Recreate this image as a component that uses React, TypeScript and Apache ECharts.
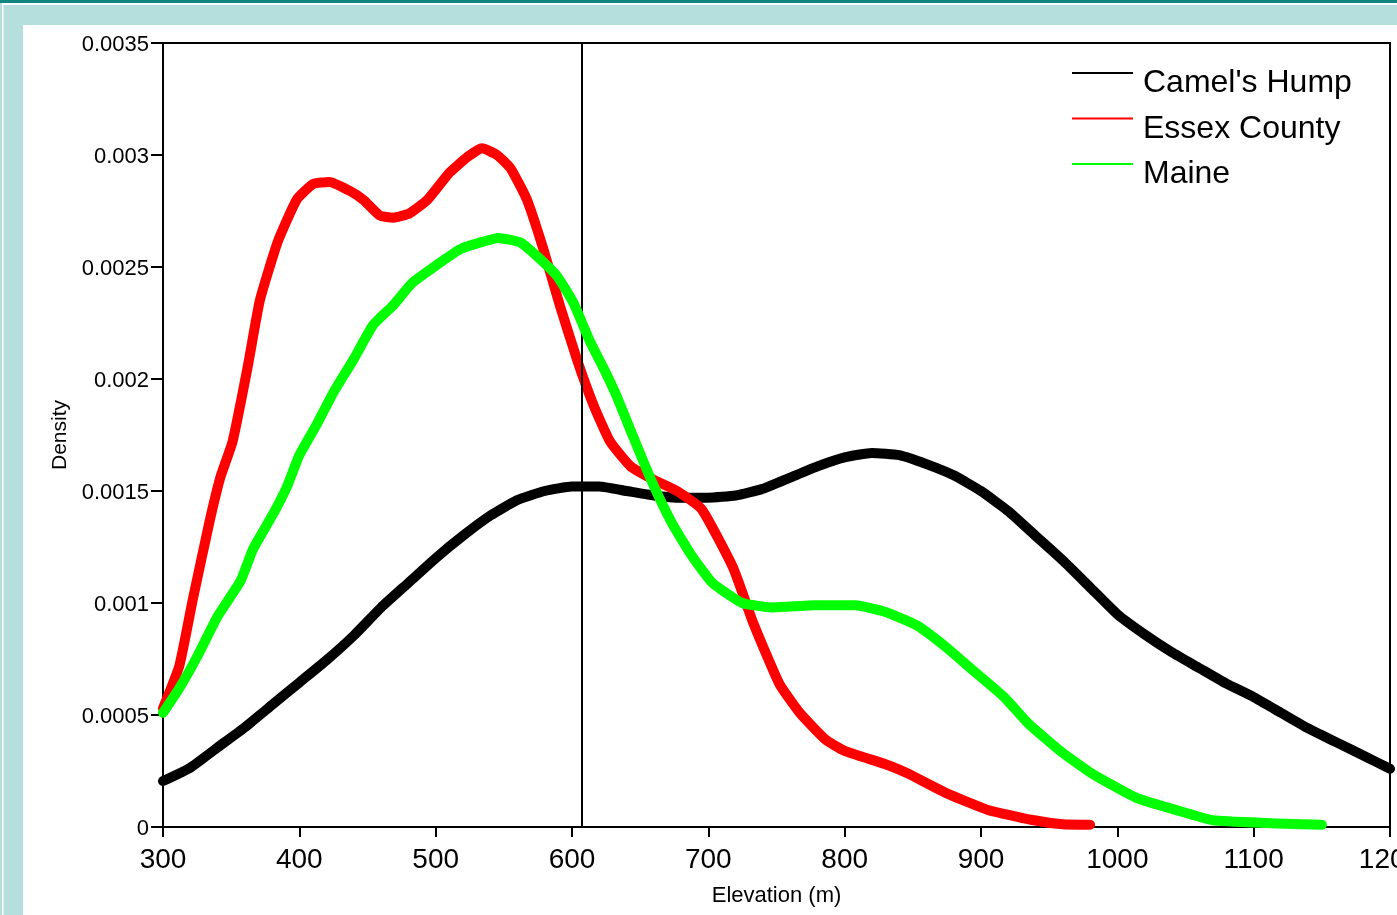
import React, { useEffect, useRef } from "react";
import * as echarts from "echarts";

const seriesNames = ["Camel's Hump", "Essex County", "Maine"];
const seriesColors = ["#000000", "#ff0000", "#00ff00"];

const camelsX = [300, 320, 340, 360, 380, 400, 420, 440, 460, 480, 500, 520, 540, 560, 580, 600, 620, 640, 660, 680, 700, 720, 740, 760, 780, 800, 820, 840, 860, 880, 900, 920, 940, 960, 980, 1000, 1020, 1040, 1060, 1080, 1100, 1120, 1140, 1160, 1180, 1200];
const camelsY = [0.000205, 0.000265, 0.000355, 0.000445, 0.000545, 0.000645, 0.000745, 0.000855, 0.00098, 0.00109, 0.0012, 0.0013, 0.00139, 0.00146, 0.0015, 0.00152, 0.00152, 0.0015, 0.00148, 0.00147, 0.00147, 0.00148, 0.00151, 0.00156, 0.00161, 0.00165, 0.00167, 0.00166, 0.00162, 0.00157, 0.0015, 0.00141, 0.0013, 0.00119, 0.00107, 0.00095, 0.00086, 0.00078, 0.00071, 0.00064, 0.00058, 0.00051, 0.00044, 0.00038, 0.00032, 0.00026];

const essexX = [300, 312, 322, 334, 342, 351, 362, 371, 384, 398, 410, 422, 437, 447, 459, 469, 481, 494, 510, 523, 534, 545, 555, 567, 579, 591, 604, 616, 628, 643, 660, 677, 695, 718, 733, 752, 767, 786, 800, 830, 846, 875, 905, 939, 960, 980];
const essexY = [0.00053, 0.00072, 0.00102, 0.00136, 0.00156, 0.00172, 0.00205, 0.00235, 0.00261, 0.0028, 0.00287, 0.00288, 0.00284, 0.0028, 0.00273, 0.00272, 0.00274, 0.0028, 0.00292, 0.00299, 0.00303, 0.003, 0.00294, 0.0028, 0.00258, 0.00233, 0.00208, 0.00188, 0.00172, 0.00161, 0.00155, 0.0015, 0.00142, 0.00116, 0.00091, 0.00064, 0.00051, 0.00039, 0.00034, 0.00028, 0.00024, 0.00015, 0.000076, 0.00003, 0.000012, 0.00001];

const maineX = [300, 312, 325, 340, 357, 366, 381, 391, 400, 413, 425, 440, 454, 469, 483, 501, 518, 533, 546, 562, 574, 589, 601, 613, 623, 633, 643, 658, 673, 688, 703, 725, 748, 778, 808, 830, 853, 875, 894, 917, 935, 958, 981, 1014, 1048, 1070, 1108, 1150];
const maineY = [0.00051, 0.00062, 0.00076, 0.00094, 0.0011, 0.00124, 0.0014, 0.00152, 0.00166, 0.0018, 0.00194, 0.00209, 0.00224, 0.00233, 0.00243, 0.00251, 0.00258, 0.00261, 0.00263, 0.00261, 0.00255, 0.00246, 0.00234, 0.00217, 0.00205, 0.00192, 0.00177, 0.00155, 0.00136, 0.00121, 0.00109, 0.001, 0.00098, 0.00099, 0.00099, 0.00096, 0.0009, 0.0008, 0.0007, 0.00058, 0.00046, 0.00034, 0.00024, 0.00013, 0.000067, 0.00003, 0.000018, 0.00001];

const markerElevation = 607;
const xMin = 300;
const xMax = 1200;
const xStep = 100;
const yMin = 0;
const yMax = 0.0035;
const yStep = 0.0005;

const FONT = "'Liberation Sans', Arial, sans-serif";

function pairs(xs: number[], ys: number[]) {
  return xs.map((x, i) => [x, ys[i]]);
}

export default function App() {
  const ref = useRef<HTMLDivElement>(null);
  useEffect(() => {
    if (!ref.current) return;
    const chart = echarts.init(ref.current, undefined, { renderer: "svg" });
    const W = 1397;
    const H = 915;
    const data = [pairs(camelsX, camelsY), pairs(essexX, essexY), pairs(maineX, maineY)];
    const legendItems: any[] = [];
    seriesNames.forEach((name, i) => {
      const ly = 73 + i * 45.5;
      legendItems.push({
        type: "line",
        z: 100,
        shape: { x1: 1072, y1: ly, x2: 1133, y2: ly },
        style: { stroke: seriesColors[i], lineWidth: 2 },
      });
      legendItems.push({
        type: "text",
        z: 100,
        x: 1143,
        y: ly + 8,
        style: {
          text: name,
          font: `32px ${FONT}`,
          fill: "#000",
          verticalAlign: "middle",
          align: "left",
        },
      });
    });
    chart.setOption({
      animation: false,
      graphic: [
        { type: "rect", z: -10, silent: true, shape: { x: 0, y: 0, width: W, height: H }, style: { fill: "#b5dfdc" } },
        { type: "rect", z: -9, silent: true, shape: { x: 0, y: 0, width: W, height: 3 }, style: { fill: "#118680" } },
        { type: "rect", z: -9, silent: true, shape: { x: 2, y: 3, width: W, height: 2 }, style: { fill: "#ffffff" } },
        { type: "rect", z: -9, silent: true, shape: { x: 2, y: 3, width: 1.5, height: H }, style: { fill: "#ffffff" } },
        { type: "rect", z: -9, silent: true, shape: { x: 23, y: 25, width: W, height: H }, style: { fill: "#ffffff" } },
        ...legendItems,
      ],
      grid: {
        left: 163,
        top: 43,
        right: W - 1390,
        bottom: H - 827,
        show: true,
        containLabel: false,
        outerBoundsMode: "none",
        borderColor: "#000",
        borderWidth: 2,
        backgroundColor: "transparent",
      },
      xAxis: {
        type: "value",
        min: xMin,
        max: xMax,
        interval: xStep,
        name: "Elevation (m)",
        nameLocation: "middle",
        nameGap: 56,
        nameTextStyle: { fontSize: 22, color: "#000", fontFamily: FONT },
        axisLine: { show: true, lineStyle: { color: "#000", width: 2 } },
        axisTick: { show: true, length: 10, lineStyle: { color: "#000", width: 2 } },
        axisLabel: {
          fontSize: 28,
          color: "#000",
          fontFamily: FONT,
          margin: 17,
          hideOverlap: false,
          formatter: (v: number) => String(v),
        },
        splitLine: { show: false },
      },
      yAxis: {
        type: "value",
        min: yMin,
        max: yMax,
        interval: yStep,
        name: "Density",
        nameLocation: "middle",
        nameGap: 94,
        nameTextStyle: { fontSize: 21, color: "#000", fontFamily: FONT },
        axisLine: { show: true, lineStyle: { color: "#000", width: 2 } },
        axisTick: { show: true, length: 12, lineStyle: { color: "#000", width: 2 } },
        axisLabel: {
          fontSize: 22,
          color: "#000",
          fontFamily: FONT,
          margin: 14,
          formatter: (v: number) => String(+v.toFixed(4)),
        },
        splitLine: { show: false },
      },
      series: seriesNames.map((name, i) => ({
        name,
        type: "line",
        data: data[i],
        showSymbol: false,
        smooth: 0.15,
        z: 3 + i,
        lineStyle: { color: seriesColors[i], width: 10, cap: "round", join: "round" },
        ...(i === 0
          ? {
              markLine: {
                silent: true,
                symbol: "none",
                label: { show: false },
                lineStyle: { color: "#000", width: 2, type: "solid" },
                data: [{ xAxis: markerElevation }],
              },
            }
          : {}),
      })),
    });
    return () => chart.dispose();
  }, []);
  return (
    <div
      ref={ref}
      style={{ position: "fixed", left: 0, top: 0, width: 1397, height: 915 }}
    />
  );
}
